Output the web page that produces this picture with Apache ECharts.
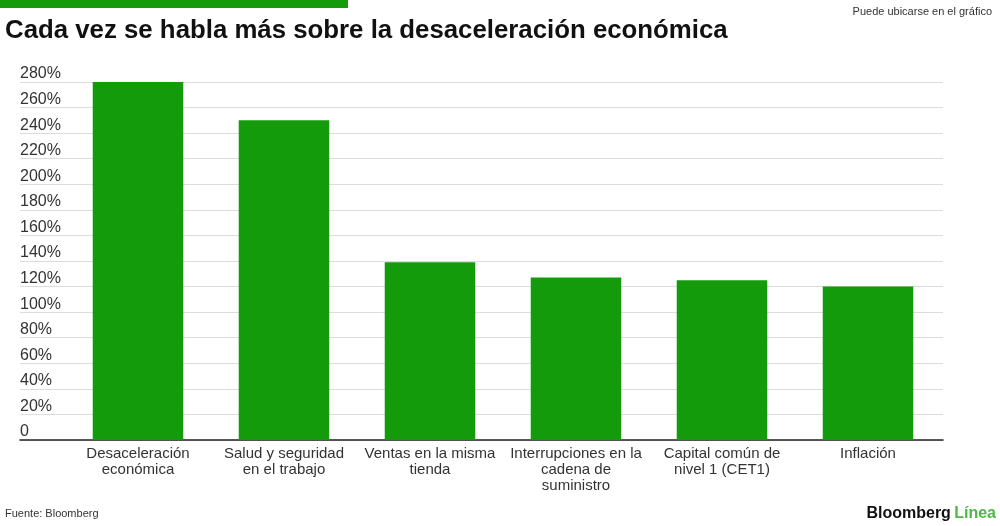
<!DOCTYPE html>
<html>
<head>
<meta charset="utf-8">
<script src="https://cdn.jsdelivr.net/npm/echarts@6/dist/echarts.min.js"></script>
<style>
  html, body { margin: 0; padding: 0; background: #fff; }
  #chart { width: 1000px; height: 526px; }
</style>
</head>
<body>
<div id="chart"></div>
<script>
// categorias del eje x
var categorias = [
  'Desaceleración\neconómica',
  'Salud y seguridad\nen el trabajo',
  'Ventas en la misma\ntienda',
  'Interrupciones en la\ncadena de\nsuministro',
  'Capital común de\nnivel 1 (CET1)',
  'Inflación'
];
// menciones (%)
var valores = [280, 250, 139, 127, 125, 120];
// eje y
var yMin = 0, yMax = 280, yPaso = 20;

var verde = '#149b0b';
var chart = echarts.init(document.getElementById('chart'));

var option = {
  backgroundColor: '#fff',
  animation: false,
  textStyle: { fontFamily: 'Liberation Sans, Arial, sans-serif' },
  graphic: [
    // franja verde arriba
    { type: 'rect', left: 0, top: 0, shape: { width: 348, height: 8 }, style: { fill: verde } },
    {
      type: 'text', left: 5, top: 18,
      style: {
        text: 'Cada vez se habla más sobre la desaceleración económica',
        fontFamily: 'Liberation Sans', fontWeight: 'bold', fontSize: 25.8, fill: '#111'
      }
    },
    {
      type: 'text', right: 8, top: 6,
      style: { text: 'Puede ubicarse en el gráfico', fontFamily: 'Liberation Sans', fontSize: 11, fill: '#333' }
    },
    {
      type: 'text', left: 5, top: 508,
      style: { text: 'Fuente: Bloomberg', fontFamily: 'Liberation Sans', fontSize: 11, fill: '#333' }
    },
    {
      type: 'text', right: 4, top: 506,
      style: {
        text: '{a|Bloomberg} {b|Línea}',
        rich: {
          a: { fontFamily: 'Liberation Sans', fontWeight: 'bold', fontSize: 16, fill: '#111' },
          b: { fontFamily: 'Liberation Sans', fontWeight: 'bold', fontSize: 16, fill: '#4cb944' }
        }
      }
    }
  ],
  grid: [
    { left: 65, right: 59, top: 82, bottom: 86 },   // barras
    { left: 20, right: 57, top: 82, bottom: 86 }    // lineas guia y etiquetas
  ],
  xAxis: [
    {
      type: 'category', gridIndex: 0, data: categorias,
      axisLine: { show: false }, axisTick: { show: false },
      axisLabel: { interval: 0, fontSize: 15, lineHeight: 16, color: '#333', margin: 6 }
    },
    {
      type: 'value', gridIndex: 1, min: 0, max: 1,
      axisLine: { show: true, lineStyle: { color: '#222', width: 1.5 } },
      axisTick: { show: false }, axisLabel: { show: false }, splitLine: { show: false }
    }
  ],
  yAxis: [
    {
      type: 'value', gridIndex: 0, min: yMin, max: yMax, interval: yPaso,
      axisLine: { show: false }, axisTick: { show: false },
      axisLabel: { show: false }, splitLine: { show: false }
    },
    {
      type: 'value', gridIndex: 1, min: yMin, max: yMax, interval: yPaso,
      axisLine: { show: false }, axisTick: { show: false },
      axisLabel: {
        inside: true, margin: 0, fontSize: 16, color: '#333',
        verticalAlign: 'bottom', lineHeight: 16, padding: [0, 0, 0, 0],
        formatter: function (v) { return v === 0 ? '0' : v + '%'; }
      },
      splitLine: { show: true, lineStyle: { color: '#dcdcdc', width: 1.2 } }
    }
  ],
  series: [
    {
      type: 'bar', xAxisIndex: 0, yAxisIndex: 0,
      data: valores, barWidth: '62%',
      itemStyle: { color: verde },
      z: 3
    }
  ]
};

chart.setOption(option);
</script>
</body>
</html>
